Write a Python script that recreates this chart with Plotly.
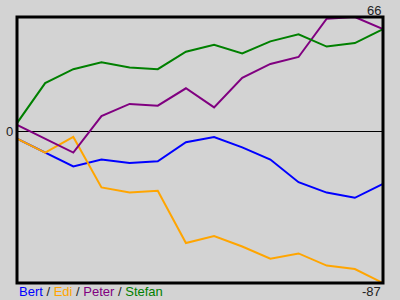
import plotly.graph_objects as go

steps = list(range(14))
bert = [-4, -12, -20, -16, -18, -17, -6, -3, -9, -16, -29, -35, -38, -30]
edi = [-4, -12, -3, -32, -35, -34, -64, -60, -66, -73, -70, -77, -79, -87]
peter = [4, -4, -12, 9, 16, 15, 25, 14, 31, 39, 43, 65, 66, 59]
stefan = [5, 28, 36, 40, 37, 36, 46, 50, 45, 52, 56, 49, 51, 59]

names = ["Bert", "Edi", "Peter", "Stefan"]
colors = ["#0000ff", "#ffa500", "#800080", "#008000"]
series = [bert, edi, peter, stefan]

ymin = min(min(s) for s in series)
ymax = max(max(s) for s in series)

fig = go.Figure()
for name, col, s in zip(names, colors, series):
    fig.add_trace(go.Scatter(x=steps, y=s, mode="lines", name=name,
                             line=dict(color=col, width=2)))

font = dict(family="Liberation Sans, Arial, sans-serif", size=13, color="#222")

legend_text = " / ".join(
    f"<span style='color:{c}'>{n}</span>" for n, c in zip(names, colors)
)

fig.update_layout(
    width=400, height=300,
    margin=dict(l=17, r=17, t=17, b=17),
    paper_bgcolor="#d3d3d3", plot_bgcolor="#d3d3d3",
    showlegend=False,
    font=font,
    xaxis=dict(range=[steps[0], steps[-1]], showgrid=False, zeroline=False,
               showticklabels=False, ticks=""),
    yaxis=dict(range=[ymin, ymax], showgrid=False, zeroline=True,
               zerolinecolor="black", zerolinewidth=1,
               showticklabels=False, ticks=""),
    shapes=[dict(type="rect", xref="paper", yref="paper", x0=0, x1=1, y0=0, y1=1,
                 line=dict(color="black", width=3), layer="above")],
    annotations=[
        dict(text=str(ymax), xref="paper", yref="paper", x=1, y=1,
             xanchor="right", yanchor="bottom", showarrow=False, font=font,
             yshift=-3),
        dict(text=str(ymin), xref="paper", yref="paper", x=1, y=0,
             xanchor="right", yanchor="top", showarrow=False, font=font,
             yshift=1),
        dict(text="0", xref="paper", yref="y", x=0, y=0,
             xanchor="right", yanchor="middle", showarrow=False, font=font,
             xshift=-2),
        dict(text=legend_text, xref="paper", yref="paper", x=0, y=0,
             xanchor="left", yanchor="top", showarrow=False, font=font,
             yshift=1),
    ],
)

fig.write_html("out.html")
